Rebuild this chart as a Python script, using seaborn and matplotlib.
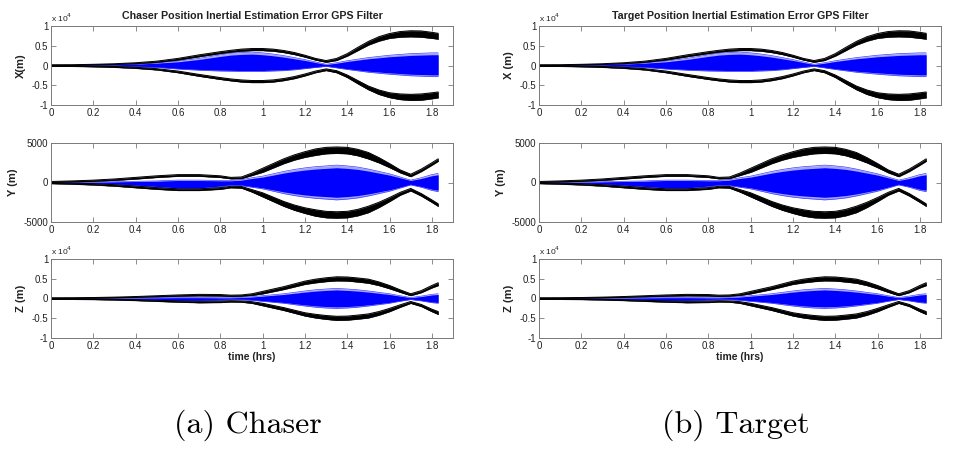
import numpy as np
import pandas as pd
import matplotlib
matplotlib.use("Agg")
import matplotlib.pyplot as plt
import seaborn as sns

sns.set_theme(style="white")
plt.rcParams["font.family"] = ["Liberation Sans", "DejaVu Sans"]

# Time knots (hrs)
t = [0, 0.1, 0.2, 0.3, 0.4, 0.5, 0.6, 0.7, 0.8, 0.85, 0.9, 0.95, 1.0, 1.05, 1.1,
     1.15, 1.2, 1.25, 1.3, 1.35, 1.4, 1.45, 1.5, 1.55, 1.6, 1.65, 1.7, 1.75, 1.8, 1.83]

# 3-sigma bounds (outer / inner edge of the black band), metres
x_sig_outer = [200, 200, 300, 450, 700, 1100, 1800, 2700, 3500, 3850, 4150, 4300, 4300, 4150, 3800,
               3300, 2600, 1800, 1250, 1800, 3000, 4600, 6100, 7300, 8100, 8600, 8800, 8750, 8400, 8150]
x_sig_inner = [0, 50, 150, 250, 450, 800, 1400, 2250, 3050, 3400, 3650, 3800, 3800, 3650, 3300,
               2800, 2150, 1400, 850, 1300, 2400, 3800, 5200, 6200, 6900, 7200, 7300, 7200, 6900, 6700]
y_sig_outer = [130, 200, 300, 450, 650, 850, 1000, 1000, 850, 650, 700, 1200, 1800, 2400, 3000,
               3500, 3900, 4250, 4450, 4500, 4450, 4200, 3800, 3150, 2400, 1600, 1050, 1700, 2500, 3000]
y_sig_inner = [0, 80, 150, 280, 450, 650, 800, 800, 650, 480, 500, 900, 1300, 1850, 2400,
               2850, 3200, 3450, 3650, 3700, 3650, 3400, 3000, 2500, 1900, 1250, 750, 1400, 2200, 2700]
z_sig_outer = [200, 200, 250, 350, 500, 700, 900, 1050, 1000, 850, 900, 1200, 1800, 2400, 3000,
               3700, 4400, 4900, 5250, 5500, 5450, 5200, 4900, 4200, 3300, 2200, 1200, 2000, 3300, 4000]
z_sig_inner = [0, 50, 100, 200, 300, 450, 600, 700, 650, 550, 600, 800, 1200, 1750, 2300,
               2950, 3600, 4000, 4300, 4500, 4450, 4200, 3900, 3300, 2500, 1600, 750, 1500, 2700, 3300]

# Spread of the Monte Carlo estimation errors (max / min over runs), metres
x_err_hi = [0, 30, 100, 200, 400, 700, 1100, 1800, 2700, 3100, 3300, 3400, 3200, 2900, 2500,
            2000, 1500, 900, 300, 700, 1200, 1600, 2000, 2300, 2600, 2800, 3000, 3100, 3200, 3200]
x_err_lo = [0, -30, -100, -200, -300, -500, -900, -1200, -1400, -1450, -1500, -1500, -1500, -1400, -1300,
            -1100, -800, -500, -200, -600, -1000, -1350, -1700, -1950, -2200, -2400, -2600, -2700, -2800, -2800]
y_err_hi = [0, 20, 50, 100, 150, 200, 300, 300, 250, 250, 350, 600, 800, 1100, 1400,
            1650, 1850, 2000, 2100, 2200, 2100, 1950, 1700, 1400, 1100, 700, 300, 600, 1000, 1150]
y_err_lo = [0, -70, -150, -250, -400, -600, -800, -800, -550, -350, -400, -600, -800, -1100, -1400,
            -1650, -1850, -2000, -2100, -2200, -2100, -1950, -1700, -1400, -1100, -700, -300, -600, -1000, -1150]
z_err_hi = [0, 20, 50, 100, 150, 200, 250, 250, 200, 200, 300, 450, 700, 950, 1200,
            1550, 1900, 2200, 2400, 2550, 2400, 2200, 1900, 1550, 1200, 700, 250, 600, 1050, 1200]
z_err_lo = [0, -50, -100, -200, -300, -400, -600, -600, -400, -300, -300, -450, -700, -950, -1200,
            -1550, -1900, -2200, -2400, -2500, -2400, -2200, -1900, -1550, -1200, -700, -250, -600, -1050, -1200]

x_ticks = [0, 0.2, 0.4, 0.6, 0.8, 1.0, 1.2, 1.4, 1.6, 1.8]
x_tick_labels = ["0", "0.2", "0.4", "0.6", "0.8", "1", "1.2", "1.4", "1.6", "1.8"]
xz_ticks = [-10000, -5000, 0, 5000, 10000]
xz_tick_labels = ["-1", "-0.5", "0", "0.5", "1"]
y_ticks = [-5000, 0, 5000]
y_tick_labels = ["-5000", "0", "5000"]

panels = [
    ("Chaser Position Inertial Estimation Error GPS Filter", ["X(m)", "Y (m)", "Z (m)"], "(a) Chaser"),
    ("Target Position Inertial Estimation Error GPS Filter", ["X (m)", "Y (m)", "Z (m)"], "(b) Target"),
]
components = [
    (x_sig_outer, x_sig_inner, x_err_hi, x_err_lo, xz_ticks, xz_tick_labels, 10000, True),
    (y_sig_outer, y_sig_inner, y_err_hi, y_err_lo, y_ticks, y_tick_labels, 5000, False),
    (z_sig_outer, z_sig_inner, z_err_hi, z_err_lo, xz_ticks, xz_tick_labels, 10000, True),
]

fig = plt.figure(figsize=(9.74, 4.55), dpi=100)
W, H = 974, 455
lefts = [51, 539]
width = 402
tops = [26, 143, 259]
height = 79

spine_col = "#7a7a7a"
text_col = "#222222"

for p, (title, ylabels, caption) in enumerate(panels):
    for r, (so, si, ehi, elo, yt, ytl, lim, sci) in enumerate(components):
        ax = fig.add_axes([lefts[p] / W, 1 - (tops[r] + height) / H, width / W, height / H])
        df = pd.DataFrame({"t": t, "so": so, "si": si, "hi": ehi, "lo": elo})
        df["mid_hi"] = [0.85 * v for v in ehi]
        df["mid_lo"] = [0.85 * v for v in elo]

        # Monte Carlo error spread: sparse outer runs, dense core
        ax.fill_between(df["t"], df["lo"], df["hi"], color="#5a5aff", lw=0, alpha=0.55)
        ax.fill_between(df["t"], df["mid_lo"], df["mid_hi"], color="#0000ff", lw=0)
        sns.lineplot(data=df, x="t", y="hi", ax=ax, color="#3a3aff", lw=0.5)
        sns.lineplot(data=df, x="t", y="lo", ax=ax, color="#3a3aff", lw=0.5)

        # 3-sigma bands
        for sgn in (1, -1):
            ax.fill_between(df["t"], sgn * df["si"], sgn * df["so"], color="black", lw=0.3,
                            edgecolor="black")
            sns.lineplot(x=df["t"], y=sgn * df["so"], ax=ax, color="black", lw=0.7)
            sns.lineplot(x=df["t"], y=sgn * df["si"], ax=ax, color="black", lw=0.7)

        ax.set_xlim(0, 1.9)
        ax.set_ylim(-lim, lim)
        ax.set_xticks(x_ticks)
        ax.set_xticklabels(x_tick_labels)
        ax.set_yticks(yt)
        ax.set_yticklabels(ytl)
        ax.tick_params(direction="in", length=3.5, width=0.6, colors=spine_col,
                       labelcolor=text_col, labelsize=7, pad=2,
                       top=True, right=True, bottom=True, left=True)
        for s in ax.spines.values():
            s.set_color(spine_col)
            s.set_linewidth(0.7)
        ax.set_xlabel("")
        ax.set_ylabel(ylabels[r], fontsize=8, fontweight="bold", color=text_col, labelpad=4)
        if sci:
            ax.text(0.0, 1.03, r"x 10$^4$", transform=ax.transAxes, fontsize=6,
                    color=text_col, ha="left", va="bottom")
        if r == 0:
            ax.set_title(title, fontsize=7.7, fontweight="bold", color=text_col, pad=5)
        if r == 2:
            ax.set_xlabel("time (hrs)", fontsize=7.5, fontweight="bold", color=text_col, labelpad=1)
    fig.text((lefts[p] + width / 2 - 4) / W, 1 - 425 / H, caption, fontsize=23,
             family="cmr10", ha="center", va="center", color="black")

fig.savefig("out.png", dpi=100)
